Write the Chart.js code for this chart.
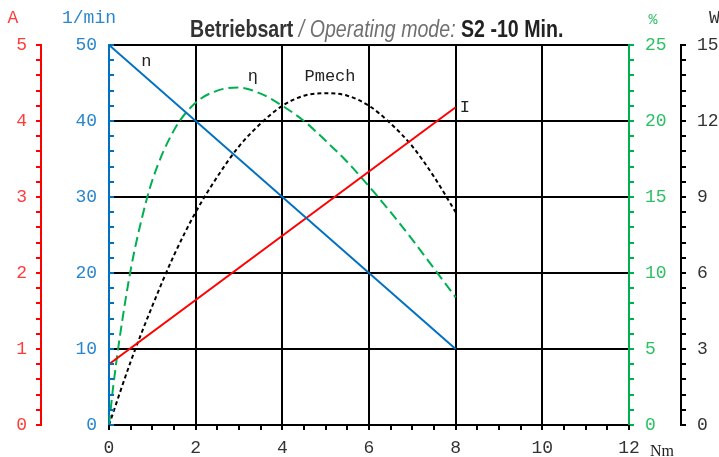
<!DOCTYPE html>
<html><head><meta charset="utf-8">
<script src="https://cdn.jsdelivr.net/npm/chart.js@4.4.1/dist/chart.umd.min.js"></script>
<style>html,body{margin:0;padding:0;background:#fff;overflow:hidden}#wrap{width:719px;height:457px;position:relative}</style>
</head><body><div id="wrap"><canvas id="c"></canvas></div>
<script>
// ---- data ----
const torqueN = [0, 8];
const speedN = [50, 10];
const torqueI = [0, 8];
const currentI = [0.8, 4.18];
const torqueEta = [0, 0.1, 0.25, 0.5, 0.75, 1, 1.5, 2, 2.5, 3, 3.5, 4, 4.5, 5, 5.5, 6, 6.5, 7, 7.5, 8];
const eta = [0, 2.6, 5.8, 10.2, 13.5, 16.1, 19.4, 21.2, 22.0, 22.2, 21.8, 21.0, 20.0, 18.7, 17.3, 15.7, 14.0, 12.2, 10.3, 8.4];
const torqueP = [0, 0.5, 1, 1.5, 2, 2.5, 3, 3.5, 4, 4.5, 5, 5.5, 6, 6.5, 7, 7.5, 8];
const pmech = [0, 2.5, 4.7, 6.7, 8.4, 9.8, 11.0, 11.9, 12.6, 13.0, 13.1, 13.0, 12.6, 11.9, 11.0, 9.8, 8.4];
// tick labels
const xTickVals = [0, 2, 4, 6, 8, 10, 12];
const ampTicks = [0, 1, 2, 3, 4, 5];
const rpmTicks = [0, 10, 20, 30, 40, 50];
const pctTicks = [0, 5, 10, 15, 20, 25];
const wattTicks = [0, 3, 6, 9, 12, 15];
// axis titles / texts
const titleParts = ["Betriebsart", " / Operating mode: ", "S2 -10 Min."];
const seriesNames = ["n", "I", "\u03B7", "Pmech"];

const RED = '#ff0000', BLUE = '#0070c0', GREEN = '#00b050', BLACK = '#000000';
const RED_T = '#ff3b3b', BLUE_T = '#2a86cc', GREEN_T = '#2cc064', BLACK_T = '#333333';
const MONO = "'Liberation Mono', 'Courier New', monospace";

function pts(xs, ys) { return xs.map((x, i) => ({ x: x, y: ys[i] })); }
function setTicks(arr) { return s => { s.ticks = arr.map(v => ({ value: v })); }; }

function hasFont(f) {
  const c = document.createElement('canvas').getContext('2d');
  c.font = "40px monospace"; const a = c.measureText('Betriebsart Min').width;
  c.font = "40px '" + f + "', monospace"; return c.measureText('Betriebsart Min').width !== a;
}
const narrow = hasFont('Liberation Sans Narrow');

const decor = {
  id: 'decor',
  afterDraw(chart) {
    const ctx = chart.ctx, sc = chart.scales;
    const xs = sc.x, yb = sc.y, ya = sc.yA, yp = sc.yP, yw = sc.yW;
    ctx.save();
    ctx.lineWidth = 2;
    // minor ticks
    function vt(scale, x0, x1, step, max, color) {
      ctx.strokeStyle = color; ctx.beginPath();
      for (let v = 0; v <= max + 1e-9; v += step) {
        const y = Math.round(scale.getPixelForValue(v));
        ctx.moveTo(x0, y); ctx.lineTo(x1, y);
      }
      ctx.stroke();
    }
    const ax = ya.right, bx = yb.right, px = yp.left, wx = yw.left;
    vt(ya, ax - 5, ax, 0.2, 5, RED);
    vt(yb, bx, bx + 5, 2, 50, BLUE);
    vt(yp, px, px + 5, 1, 25, GREEN);
    vt(yw, wx, wx + 5, 0.6, 15, BLACK);
    ctx.strokeStyle = BLACK; ctx.beginPath();
    for (let v = 0; v <= 12 + 1e-9; v += 0.5) {
      const x = Math.round(xs.getPixelForValue(v));
      ctx.moveTo(x, xs.top); ctx.lineTo(x, xs.top + 5);
    }
    ctx.stroke();

    // axis titles
    ctx.textBaseline = 'alphabetic';
    ctx.font = "18px " + MONO;
    ctx.fillStyle = RED_T; ctx.textAlign = 'center'; ctx.fillText('A', 13, 23);
    ctx.fillStyle = BLUE_T; ctx.textAlign = 'left'; ctx.fillText('1/min', 62, 23);
    ctx.fillStyle = GREEN_T; ctx.textAlign = 'center'; ctx.font = "15px " + MONO; ctx.fillText('%', 653, 24);
    ctx.fillStyle = BLACK_T; ctx.textAlign = 'left'; ctx.font = "18px " + MONO; ctx.fillText('W', 709, 23);
    ctx.font = "16px 'Liberation Serif', serif"; ctx.fillStyle = '#222'; ctx.fillText('Nm', 650, 456);

    // series labels
    ctx.font = "17px " + MONO; ctx.fillStyle = '#222'; ctx.textAlign = 'center';
    ctx.fillText(seriesNames[0], xs.getPixelForValue(0.86), yb.getPixelForValue(47.3));
    ctx.fillText(seriesNames[2], xs.getPixelForValue(3.32), yb.getPixelForValue(45.3));
    ctx.fillText(seriesNames[3], xs.getPixelForValue(5.1), yb.getPixelForValue(45.2));
    ctx.textAlign = 'left';
    ctx.fillText(seriesNames[1], xs.getPixelForValue(8) + 4, ya.getPixelForValue(4.18) + 5);

    // title
    let x = 190; const base = 37;
    const fam = narrow ? "'Liberation Sans Narrow'" : "'Liberation Sans'";
    const sx = narrow ? 1 : 0.83;
    const fs = 23.6;
    const fonts = ["bold " + fs + "px " + fam, "italic " + fs + "px " + fam, "bold " + fs + "px " + fam];
    const cols = ['#333333', '#707070', '#222222'];
    ctx.textAlign = 'left';
    for (let i = 0; i < 3; i++) {
      ctx.font = fonts[i]; ctx.fillStyle = cols[i];
      ctx.save(); ctx.translate(x, base); ctx.scale(sx, 1);
      ctx.fillText(titleParts[i], 0, 0);
      ctx.restore();
      x += ctx.measureText(titleParts[i]).width * sx;
    }
    ctx.restore();
  }
};

const tickFont = { family: "'Liberation Mono'", size: 18 };
new Chart(document.getElementById('c'), {
  type: 'line',
  data: {
    datasets: [
      { label: 'n', data: pts(torqueN, speedN), yAxisID: 'y', borderColor: BLUE, borderWidth: 2, pointRadius: 0 },
      { label: 'I', data: pts(torqueI, currentI), yAxisID: 'yA', borderColor: RED, borderWidth: 2, pointRadius: 0 },
      { label: 'eta', data: pts(torqueEta, eta), yAxisID: 'yP', borderColor: GREEN, borderWidth: 2, borderDash: [10, 5], pointRadius: 0, cubicInterpolationMode: 'monotone' },
      { label: 'Pmech', data: pts(torqueP, pmech), yAxisID: 'yW', borderColor: BLACK, borderWidth: 2, borderDash: [4, 3], pointRadius: 0, cubicInterpolationMode: 'monotone' }
    ]
  },
  options: {
    responsive: true, maintainAspectRatio: false, animation: false, devicePixelRatio: 1,
    layout: { padding: { top: 45, left: 0, right: 0, bottom: 0 } },
    plugins: { legend: { display: false }, tooltip: { enabled: false }, title: { display: false } },
    scales: {
      x: {
        type: 'linear', position: 'bottom', min: 0, max: 12,
        afterBuildTicks: setTicks(xTickVals), afterFit: s => { s.height = 32; },
        grid: { color: c => (c.tick && (c.tick.value === 0 || c.tick.value === 12)) ? 'rgba(0,0,0,0)' : BLACK, lineWidth: 2, drawTicks: false },
        border: { color: BLACK, width: 2 },
        ticks: { color: BLACK_T, font: tickFont, padding: 12, maxRotation: 0, autoSkip: false }
      },
      y: {
        type: 'linear', position: 'left', weight: 0, min: 0, max: 50,
        afterBuildTicks: setTicks(rpmTicks), afterFit: s => { s.width = 68; },
        grid: { color: c => (c.tick && c.tick.value === 0) ? 'rgba(0,0,0,0)' : BLACK, lineWidth: 2, drawTicks: false },
        border: { color: BLUE, width: 2 },
        ticks: { color: BLUE_T, font: tickFont, padding: 12 }
      },
      yA: {
        type: 'linear', position: 'left', weight: 1, min: 0, max: 5,
        afterBuildTicks: setTicks(ampTicks), afterFit: s => { s.width = 41; },
        grid: { drawOnChartArea: false, drawTicks: false },
        border: { color: RED, width: 2 },
        ticks: { color: RED_T, font: tickFont, padding: 14 }
      },
      yP: {
        type: 'linear', position: 'right', weight: 0, min: 0, max: 25,
        afterBuildTicks: setTicks(pctTicks), afterFit: s => { s.width = 52; },
        grid: { drawOnChartArea: false, drawTicks: false },
        border: { color: GREEN, width: 2 },
        ticks: { color: GREEN_T, font: tickFont, padding: 16 }
      },
      yW: {
        type: 'linear', position: 'right', weight: 1, min: 0, max: 15,
        afterBuildTicks: setTicks(wattTicks), afterFit: s => { s.width = 38; },
        grid: { drawOnChartArea: false, drawTicks: false },
        border: { color: BLACK, width: 2 },
        ticks: { color: BLACK_T, font: tickFont, padding: 16 }
      }
    }
  },
  plugins: [decor]
});
</script></body></html>
